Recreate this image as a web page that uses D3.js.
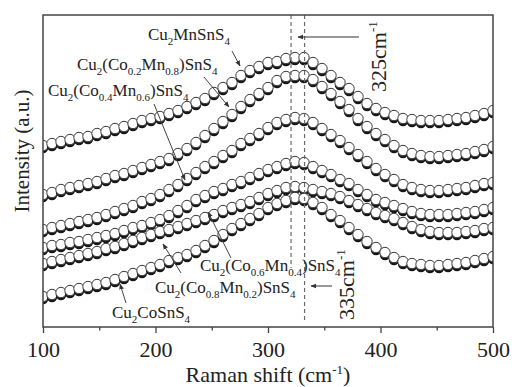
<!DOCTYPE html>
<html>
<head>
<meta charset="utf-8">
<script src="https://cdn.jsdelivr.net/npm/d3@7"></script>
<style>
  body { margin: 0; background: #fff; }
  text { font-family: "Liberation Serif", "Times New Roman", serif; fill: #222; }
</style>
</head>
<body>
<div id="chart"></div>
<script>
// Raman shift grid (cm-1), one symbol every 8 cm-1
const ramanShift = [100,108,116,124,132,140,148,156,164,172,180,188,196,204,212,220,228,236,244,252,
                    260,268,276,284,292,300,308,316,324,332,340,348,356,364,372,380,388,396,404,412,
                    420,428,436,444,452,460,468,476,484,492,500];

// stacked intensities (a.u.), top spectrum first
const cu2MnSnS4 = [181,183,185,187,189,190,193,195,198,200,203,206,208,210,213,216,220,224,228,234,
                   239,244,251,256,260,264,265,268,269,269,264,258,251,244,238,230,223,218,214,211,
                   208,207,206,206,206,207,208,209,211,213,216];
const co02Mn08 = [132,134,137,139,141,143,145,148,151,153,156,159,162,165,168,173,178,184,191,198,
                  205,212,220,227,233,239,246,250,251,251,247,240,233,225,217,208,200,193,187,181,
                  176,173,171,170,170,171,172,173,175,177,180];
const co04Mn06 = [97,99,101,103,105,107,109,112,115,118,121,125,128,132,137,142,148,154,160,165,
                  171,176,183,188,193,199,204,207,209,208,204,198,192,186,179,172,165,158,152,147,
                  142,139,137,136,136,137,138,139,141,143,144];
const co06Mn04 = [79,81,82,84,85,87,89,91,93,96,99,101,104,107,111,116,121,127,131,135,
                  138,142,145,149,153,157,160,163,165,164,160,156,152,147,143,137,132,127,124,121,
                  118,115,113,112,112,112,113,114,115,117,119];
const co08Mn02 = [63,65,67,69,71,73,75,78,80,83,86,89,92,95,97,100,103,106,109,112,
                  116,119,122,125,129,133,136,139,140,139,137,135,133,130,126,122,118,114,111,108,
                  104,100,97,95,94,94,94,95,96,98,99];
const cu2CoSnS4 = [30,32,34,36,38,40,42,44,47,50,53,56,59,62,66,69,72,76,81,86,
                   92,98,103,108,113,119,123,126,129,128,124,119,112,106,99,92,85,79,74,69,
                   65,63,62,61,61,62,63,64,66,68,70];

const seriesNames = ["Cu_2MnSnS_4", "Cu_2(Co_0.2Mn_0.8)SnS_4", "Cu_2(Co_0.4Mn_0.6)SnS_4",
                     "Cu_2(Co_0.6Mn_0.4)SnS_4", "Cu_2(Co_0.8Mn_0.2)SnS_4", "Cu_2CoSnS_4"];

const xTicks = [100, 200, 300, 400, 500];
const xMinorTicks = [150, 250, 350, 450];
const peakLines = [320.5, 332.5];   // the two dashed guides

function drawChart() {
    const W = 512, H = 387;
    const margin = {top: 15, right: 19, bottom: 60, left: 43};

    const svg = d3.select("#chart").append("svg")
        .attr("width", W).attr("height", H);

    const x = d3.scaleLinear().domain([100, 500]).range([margin.left, W - margin.right]);
    const y = d3.scaleLinear().domain([0, 312]).range([H - margin.bottom, margin.top]);

    const defs = svg.append("defs");
    defs.append("clipPath").attr("id", "plotclip")
        .append("rect")
        .attr("x", margin.left).attr("y", margin.top)
        .attr("width", W - margin.left - margin.right)
        .attr("height", H - margin.top - margin.bottom);
    defs.append("marker")
        .attr("id", "arr")
        .attr("viewBox", "0 0 10 10")
        .attr("refX", 9).attr("refY", 5)
        .attr("markerWidth", 6).attr("markerHeight", 6)
        .attr("orient", "auto")
        .append("path").attr("d", "M0,1 L10,5 L0,9 z").attr("fill", "#333");

    // spectra drawn as stacked open circles
    const plot = svg.append("g").attr("clip-path", "url(#plotclip)");
    const series = [cu2MnSnS4, co02Mn08, co04Mn06, co06Mn04, co08Mn02, cu2CoSnS4];
    series.forEach(function(vals) {
        const pts = plot.append("g")
            .selectAll("g")
            .data(vals.map(function(v, i) { return {x: ramanShift[i], y: v}; }))
            .join("g");
        pts.append("circle")
            .attr("cx", d => x(d.x))
            .attr("cy", d => y(d.y) + 2)
            .attr("r", 5.2)
            .attr("fill", "#161616");
        pts.append("circle")
            .attr("cx", d => x(d.x))
            .attr("cy", d => y(d.y) - 0.5)
            .attr("r", 5.2)
            .attr("fill", "#fff")
            .attr("stroke", "#3a3a3a")
            .attr("stroke-width", 1);
    });

    // dashed guides at the peak positions
    svg.selectAll(".guide")
        .data(peakLines)
        .join("line")
        .attr("class", "guide")
        .attr("x1", d => x(d)).attr("x2", d => x(d))
        .attr("y1", margin.top)
        .attr("y2", (d, i) => i === 0 ? 268 : 320)
        .attr("stroke", "#6a6a6a")
        .attr("stroke-width", 1.2)
        .attr("stroke-dasharray", "4,3");

    // frame
    svg.append("rect")
        .attr("x", margin.left).attr("y", margin.top)
        .attr("width", W - margin.left - margin.right)
        .attr("height", H - margin.top - margin.bottom)
        .attr("fill", "none")
        .attr("stroke", "#444")
        .attr("stroke-width", 1.5);

    // x axis
    const gx = svg.append("g")
        .attr("transform", "translate(0," + (H - margin.bottom) + ")")
        .call(d3.axisBottom(x).tickValues(xTicks).tickSize(6).tickSizeOuter(0).tickPadding(8)
            .tickFormat(d3.format("d")));
    gx.select(".domain").remove();
    gx.selectAll("line").attr("stroke", "#444").attr("stroke-width", 1.3);
    gx.selectAll("text").attr("font-size", 22).attr("fill", "#222")
        .style("font-family", "'Liberation Serif', serif");

    const gm = svg.append("g")
        .attr("transform", "translate(0," + (H - margin.bottom) + ")")
        .call(d3.axisBottom(x).tickValues(xMinorTicks).tickSize(3.5).tickSizeOuter(0).tickFormat(""));
    gm.select(".domain").remove();
    gm.selectAll("line").attr("stroke", "#444").attr("stroke-width", 1.3);

    // axis titles
    const xt = svg.append("text")
        .attr("x", (margin.left + W - margin.right) / 2)
        .attr("y", 382)
        .attr("text-anchor", "middle")
        .attr("font-size", 22);
    xt.append("tspan").text("Raman shift (cm");
    xt.append("tspan").attr("dy", -8).attr("font-size", 13).text("-1");
    xt.append("tspan").attr("dy", 8).text(")");

    svg.append("text")
        .attr("transform", "translate(29,151) rotate(-90)")
        .attr("text-anchor", "middle")
        .attr("font-size", 21)
        .text("Intensity (a.u.)");

    // chemical formula with "_" marking subscript runs
    function chemLabel(sel, str) {
        const parts = str.split(/(_[0-9.]+)/).filter(s => s.length);
        let sub = false;
        parts.forEach(function(p) {
            if (p[0] === "_") {
                sel.append("tspan").attr("dy", sub ? 0 : 5).attr("font-size", 11).text(p.slice(1));
                sub = true;
            } else {
                sel.append("tspan").attr("dy", sub ? -5 : 0).text(p);
                sub = false;
            }
        });
    }

    // label placement and leader arrows
    const notes = [
        {tx: 148, ty: 40,  a: [232, 51, 240, 66]},
        {tx: 77,  ty: 70,  a: [204, 77, 229, 107]},
        {tx: 48,  ty: 96,  a: [154, 104, 185, 180]},
        {tx: 200, ty: 271, a: [231, 258, 208, 212]},
        {tx: 155, ty: 293, a: [181, 273, 163, 244]},
        {tx: 112, ty: 318, a: [126, 303, 120, 284]}
    ];
    notes.forEach(function(n, i) {
        const t = svg.append("text")
            .attr("x", n.tx).attr("y", n.ty)
            .attr("font-size", 17);
        chemLabel(t, seriesNames[i]);
        svg.append("line")
            .attr("x1", n.a[0]).attr("y1", n.a[1])
            .attr("x2", n.a[2]).attr("y2", n.a[3])
            .attr("stroke", "#444").attr("stroke-width", 1)
            .attr("marker-end", "url(#arr)");
    });

    // peak shift annotations
    function shiftLabel(px, py, val) {
        const t = svg.append("text")
            .attr("transform", "translate(" + px + "," + py + ") rotate(-90)")
            .attr("font-size", 22);
        t.append("tspan").text(val + "cm");
        t.append("tspan").attr("dy", -9).attr("font-size", 13).text("-1");
    }
    shiftLabel(386, 92, 325);
    shiftLabel(354, 320, 335);

    svg.append("line")
        .attr("x1", 359).attr("y1", 37).attr("x2", 298).attr("y2", 37)
        .attr("stroke", "#333").attr("stroke-width", 1)
        .attr("marker-end", "url(#arr)");
    svg.append("line")
        .attr("x1", 332).attr("y1", 286).attr("x2", 311).attr("y2", 286)
        .attr("stroke", "#333").attr("stroke-width", 1)
        .attr("marker-end", "url(#arr)");
}
drawChart();
</script>
</body>
</html>
